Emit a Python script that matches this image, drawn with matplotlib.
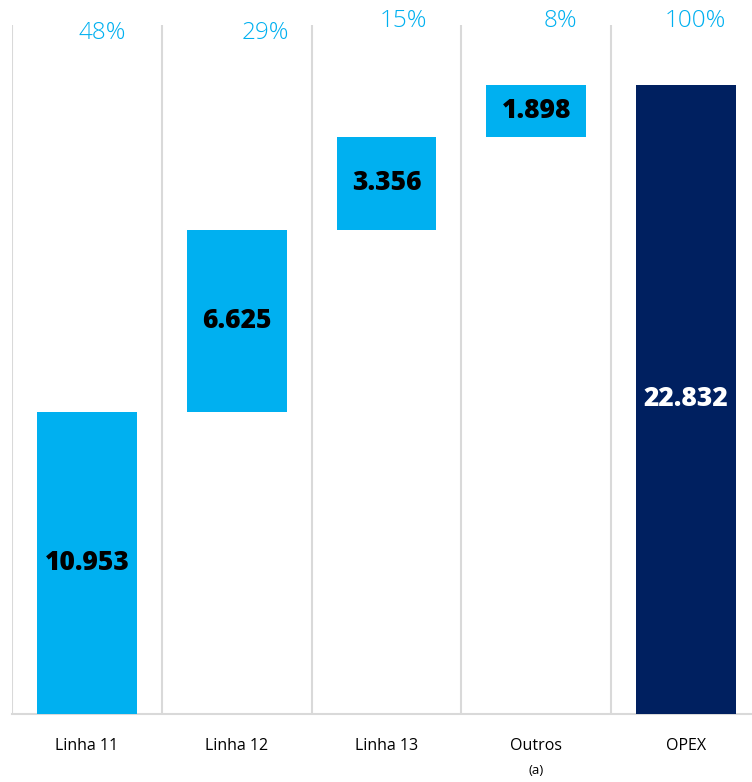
import matplotlib
matplotlib.use("Agg")
import matplotlib.pyplot as plt
import numpy as np

categories = ["Linha 11", "Linha 12", "Linha 13", "Outros", "OPEX"]
values = [10953, 6625, 3356, 1898, 22832]
value_labels = ["10.953", "6.625", "3.356", "1.898", "22.832"]
pct_labels = ["48%", "29%", "15%", "8%", "100%"]
is_total = [False, False, False, False, True]

LIGHT = "#00B0F0"
DARK = "#002060"
GRID = "#D9D9D9"

W, H = 752, 782
fig = plt.figure(figsize=(W / 100, H / 100), dpi=100)
ax = fig.add_axes([12 / W, (H - 714) / H, (761 - 12) / W, (714 - 25) / H])

bottoms = []
running = 0
for v, tot in zip(values, is_total):
    if tot:
        bottoms.append(0)
    else:
        bottoms.append(running)
        running += v

x = np.arange(len(categories))
colors = [DARK if t else LIGHT for t in is_total]
ax.bar(x, values, bottom=bottoms, width=0.667, color=colors, zorder=3)

for i, (v, b, lab, t) in enumerate(zip(values, bottoms, value_labels, is_total)):
    ax.text(i, b + v / 2, lab, ha="center", va="center",
            fontsize=19, fontweight="heavy", family="Open Sans",
            color="white" if t else "black", zorder=4)

pct_dx = [0.10, 0.19, 0.11, 0.16, 0.06]
pct_y = [24700, 24700, 25150, 25150, 25150]
for i, p in enumerate(pct_labels):
    ax.text(i + pct_dx[i], pct_y[i], p, ha="center", va="center",
            fontsize=17.5, color=LIGHT, family="Open Sans", fontweight="light",
            clip_on=False)

ax.set_xlim(-0.5, len(categories) - 0.5)
ax.set_ylim(0, 25000)
ax.set_xticks(x)
ax.set_xticklabels(categories, fontsize=11.5, family="Open Sans", color="black")
ax.tick_params(axis="x", length=0, pad=17)
ax.set_yticks([])
ax.set_xticks(np.arange(-0.5, len(categories) - 0.4, 1), minor=True)
ax.tick_params(axis="x", which="minor", length=0)
ax.grid(True, axis="x", which="minor", color=GRID, linewidth=1.5, zorder=0)
ax.grid(False, axis="x", which="major")
for s in ["top", "right", "left"]:
    ax.spines[s].set_visible(False)
ax.spines["bottom"].set_color(GRID)
ax.spines["bottom"].set_linewidth(1.5)

ax.text(3, -0.082, "(a)", transform=ax.get_xaxis_transform(), ha="center",
        va="center", fontsize=9.5, family="Open Sans", color="black")

fig.savefig("out.png", dpi=100)
